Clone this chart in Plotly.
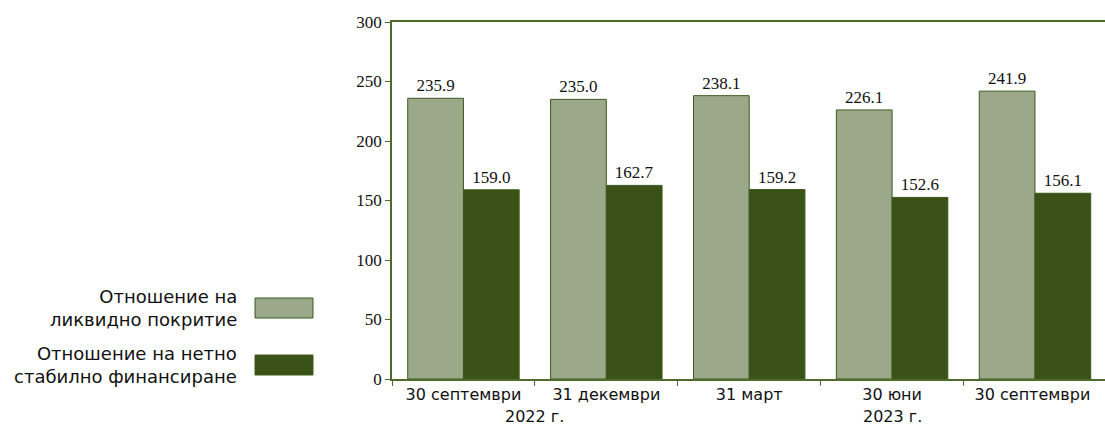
import plotly.graph_objects as go

# Quarter-end reporting dates and the year groups they belong to
categories = ["30 септември", "31 декември", "31 март", "30 юни", "30 септември "]
years = ["2022 г.", "2023 г."]
series_names = ["Отношение на<br>ликвидно покритие",
                "Отношение на нетно<br>стабилно финансиране"]
lcr = [235.9, 235.0, 238.1, 226.1, 241.9]
nsfr = [159.0, 162.7, 159.2, 152.6, 156.1]
y_ticks = [0, 50, 100, 150, 200, 250, 300]

light = "#9ba98a"
dark = "#3a5117"
axis_col = "#4f6b2c"
num_font = dict(family="Liberation Serif", size=17, color="#111111")
txt_font = dict(family="DejaVu Sans", size=16, color="#111111")

fig = go.Figure()
for vals, col, name in [(lcr, light, series_names[0]), (nsfr, dark, series_names[1])]:
    fig.add_trace(go.Bar(
        x=categories, y=vals, name=name,
        marker=dict(color=col, line=dict(color="#3d5a1c", width=1)),
        text=[f"{v:.1f}" for v in vals], textposition="outside",
        texttemplate="%{text}", textfont=num_font, cliponaxis=False,
        showlegend=False,
    ))

fig.update_layout(
    width=1105, height=430,
    margin=dict(l=392, r=0, t=22, b=51),
    barmode="group", bargap=0.22, bargroupgap=0,
    plot_bgcolor="white", paper_bgcolor="white",
)
fig.update_xaxes(
    type="category", range=[-0.5, 4.49],
    showline=True, linecolor=axis_col, linewidth=1.5, mirror=True,
    ticks="outside", tickson="boundaries", ticklen=5, tickcolor=axis_col,
    tickfont=txt_font, showgrid=False,
)
fig.update_yaxes(
    range=[0, 300], tickvals=y_ticks,
    showline=True, linecolor=axis_col, linewidth=1.5,
    ticks="outside", ticklen=5, tickcolor=axis_col,
    tickfont=num_font, showgrid=False, zeroline=False,
)

# Year labels centred under their groups of dates
fig.add_annotation(x=0.5, y=0, xref="x", yref="paper", yshift=-26, text=years[0],
                   showarrow=False, font=txt_font, yanchor="top")
fig.add_annotation(x=3, y=0, xref="x", yref="paper", yshift=-26, text=years[1],
                   showarrow=False, font=txt_font, yanchor="top")

# Legend drawn at the left of the chart, text right-aligned before each swatch
legend_rows = [(light, series_names[0], 308), (dark, series_names[1], 365)]
for col, name, yc in legend_rows:
    fig.add_shape(type="rect", xref="paper", yref="paper",
                  x0=(255 - 392) / 713, x1=(313 - 392) / 713,
                  y0=(379 - (yc + 10)) / 357, y1=(379 - (yc - 10)) / 357,
                  fillcolor=col, line=dict(color="#3d5a1c", width=1))
    fig.add_annotation(xref="paper", yref="paper",
                       x=(239 - 392) / 713, y=(379 - yc) / 357,
                       text=name, showarrow=False, align="right",
                       xanchor="right", yanchor="middle",
                       font=dict(family="DejaVu Sans", size=18, color="#111111"))

fig.write_html("out.html")
